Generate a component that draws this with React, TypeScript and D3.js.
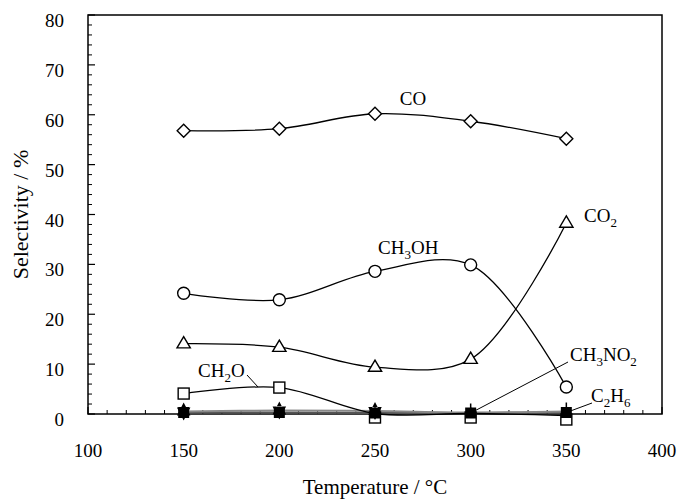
import React from "react";
import * as d3 from "d3";

// Reaction temperature (°C)
const temps = [150, 200, 250, 300, 350];

// Selectivity (%) for each product
const coSel = [56.8, 57.2, 60.2, 58.7, 55.2];
const ch3ohSel = [24.2, 22.9, 28.6, 29.9, 5.4];
const co2Sel = [14.1, 13.4, 9.4, 11.0, 38.3];
const ch2oSel = [4.1, 5.3, 0.1, 0.1, -0.3];
const ch3no2Sel = [0.3, 0.3, 0.2, 0.2, 0.3];
const c2h6Sel = [0.5, 0.7, 0.6, 0.3, 0.5];

const xTicks = [100, 150, 200, 250, 300, 350, 400];
const yTicks = [0, 10, 20, 30, 40, 50, 60, 70, 80];

const W = 681;
const H = 501;
const margin = { left: 88, right: 19, top: 15, bottom: 87 };
const FONT = "Liberation Serif, Times New Roman, Times, serif";
const txt = (size: number): React.CSSProperties => ({ fontFamily: FONT, fontSize: size });

export default function App() {
  const x = d3.scaleLinear().domain([100, 400]).range([margin.left, W - margin.right]);
  const y = d3.scaleLinear().domain([0, 80]).range([H - margin.bottom, margin.top]);
  const x0 = x(100), x1 = x(400), y0 = y(0), y1 = y(80);

  const line = (vals: number[]) =>
    d3
      .line<number>()
      .x((_, i) => x(temps[i]))
      .y((v) => y(v))
      .curve(d3.curveCatmullRom.alpha(0.5))(vals) || "";

  const xMinor = d3.range(100, 401, 10).filter((v) => v % 50 !== 0);
  const yMinor = d3.range(0, 81, 2).filter((v) => v % 10 !== 0);

  const diamond = (cx: number, cy: number, r = 6.5) =>
    `M${cx},${cy - r}L${cx + r},${cy}L${cx},${cy + r}L${cx - r},${cy}Z`;
  const triangle = (cx: number, cy: number, r = 7) =>
    `M${cx},${cy - r}L${cx + r * 0.95},${cy + r * 0.6}L${cx - r * 0.95},${cy + r * 0.6}Z`;
  const hexagram = (cx: number, cy: number, r = 9) => {
    const up = `M${cx},${cy - r}L${cx + r * 0.75},${cy + r * 0.45}L${cx - r * 0.75},${cy + r * 0.45}Z`;
    const dn = `M${cx},${cy + r}L${cx + r * 0.75},${cy - r * 0.45}L${cx - r * 0.75},${cy - r * 0.45}Z`;
    return up + dn;
  };

  return (
    <svg width={W} height={H} style={{ display: "block", position: "absolute", left: 0, top: 0 }}>
      <rect x={0} y={0} width={W} height={H} fill="#fff" />

      {/* frame */}
      <rect x={x0} y={y1} width={x1 - x0} height={y0 - y1} fill="none" stroke="#000" strokeWidth={1.5} />

      {/* y ticks */}
      {yTicks.map((t) => (
        <g key={"yt" + t}>
          <line x1={x0} x2={x0 + 7} y1={y(t)} y2={y(t)} stroke="#000" strokeWidth={1.2} />
          <text x={x0 - 24} y={y(t) + 12} textAnchor="end" style={txt(19)}>
            {t}
          </text>
        </g>
      ))}
      {yMinor.map((t) => (
        <line key={"ym" + t} x1={x0} x2={x0 + 4} y1={y(t)} y2={y(t)} stroke="#000" strokeWidth={1} />
      ))}

      {/* x ticks */}
      {xTicks.map((t) => (
        <g key={"xt" + t}>
          <line x1={x(t)} x2={x(t)} y1={y0} y2={y0 - 7} stroke="#000" strokeWidth={1.2} />
          <text x={x(t)} y={y0 + 43} textAnchor="middle" style={txt(19)}>
            {t}
          </text>
        </g>
      ))}
      {xMinor.map((t) => (
        <line key={"xm" + t} x1={x(t)} x2={x(t)} y1={y0} y2={y0 - 4} stroke="#000" strokeWidth={1} />
      ))}

      {/* axis titles */}
      <text x={(x0 + x1) / 2} y={494} textAnchor="middle" style={txt(21)}>
        Temperature / °C
      </text>
      <text transform={`translate(28,${(y0 + y1) / 2}) rotate(-90)`} textAnchor="middle" style={txt(22)}>
        Selectivity / %
      </text>

      {/* near-zero products */}
      <path d={line(ch3no2Sel)} fill="none" stroke="#555" strokeWidth={2} />
      <path d={line(c2h6Sel)} fill="none" stroke="#888" strokeWidth={2} />

      {/* curves */}
      <path d={line(coSel)} fill="none" stroke="#000" strokeWidth={1.3} />
      <path d={line(ch3ohSel)} fill="none" stroke="#000" strokeWidth={1.3} />
      <path d={line(co2Sel)} fill="none" stroke="#000" strokeWidth={1.3} />
      <path d={line(ch2oSel)} fill="none" stroke="#000" strokeWidth={1.3} />

      {/* markers */}
      {temps.map((t, i) => (
        <path key={"co" + t} d={diamond(x(t), y(coSel[i]))} fill="#fff" stroke="#000" strokeWidth={1.4} />
      ))}
      {temps.map((t, i) => (
        <circle key={"me" + t} cx={x(t)} cy={y(ch3ohSel[i])} r={6} fill="#fff" stroke="#000" strokeWidth={1.4} />
      ))}
      {temps.map((t, i) => (
        <path key={"c2" + t} d={triangle(x(t), y(co2Sel[i]))} fill="#fff" stroke="#000" strokeWidth={1.4} />
      ))}
      {temps.map((t, i) => (
        <rect
          key={"fo" + t}
          x={x(t) - 5.5}
          y={y(ch2oSel[i]) - 5.5 + (i >= 2 ? 4 : 0)}
          width={11}
          height={11}
          fill="#fff"
          stroke="#000"
          strokeWidth={1.4}
        />
      ))}
      {temps.map((t, i) => (
        <rect key={"nm" + t} x={x(t) - 5.5} y={y(ch3no2Sel[i]) - 5.5} width={11} height={11} fill="#000" />
      ))}
      {temps.slice(0, 3).map((t, i) => (
        <path key={"et" + t} d={hexagram(x(t), y(c2h6Sel[i]))} fill="#000" />
      ))}
      {temps.slice(3).map((t, i) => (
        <line
          key={"ep" + t}
          x1={x(t)}
          x2={x(t)}
          y1={y(c2h6Sel[i + 3]) - 9}
          y2={y(c2h6Sel[i + 3])}
          stroke="#000"
          strokeWidth={1.5}
        />
      ))}

      {/* labels */}
      <text x={413} y={105} textAnchor="middle" style={txt(19)}>
        CO
      </text>
      <text x={584} y={222} style={txt(19)}>
        CO<tspan style={{ fontSize: 13 }} dy={5}>2</tspan>
      </text>
      <text x={378} y={254} style={txt(19)}>
        CH<tspan style={{ fontSize: 13 }} dy={5}>3</tspan>
        <tspan dy={-5}>OH</tspan>
      </text>
      <text x={198} y={377} style={txt(19)}>
        CH<tspan style={{ fontSize: 13 }} dy={5}>2</tspan>
        <tspan dy={-5}>O</tspan>
      </text>
      <line x1={247} y1={375} x2={258} y2={387} stroke="#000" strokeWidth={1} />
      <text x={570} y={361} style={txt(19)}>
        CH<tspan style={{ fontSize: 13 }} dy={5}>3</tspan>
        <tspan dy={-5}>NO</tspan>
        <tspan style={{ fontSize: 13 }} dy={5}>2</tspan>
      </text>
      <line x1={568} y1={362} x2={x(300)} y2={y(ch3no2Sel[3])} stroke="#000" strokeWidth={1} />
      <text x={591} y={402} style={txt(19)}>
        C<tspan style={{ fontSize: 13 }} dy={5}>2</tspan>
        <tspan dy={-5}>H</tspan>
        <tspan style={{ fontSize: 13 }} dy={5}>6</tspan>
      </text>
      <line x1={592} y1={403} x2={x(350)} y2={y(ch3no2Sel[4])} stroke="#000" strokeWidth={1} />
    </svg>
  );
}
